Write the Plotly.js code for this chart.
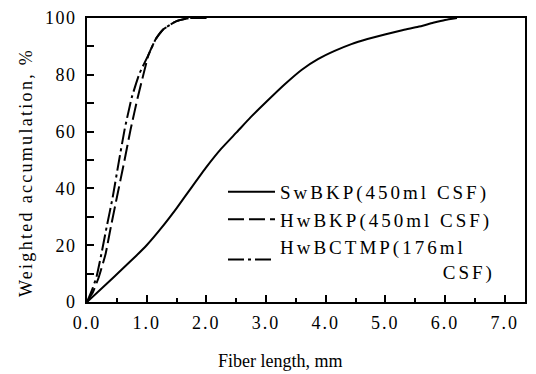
<!DOCTYPE html>
<html>
<head>
<meta charset="utf-8">
<script src="https://cdn.plot.ly/plotly-3.0.1.min.js"></script>
<style>
html,body{margin:0;padding:0;background:#fff;}
#chart{width:536px;height:374px;}
#chart .legendtext{letter-spacing:3px;}
#chart .legend .scrollbox{clip-path:none !important;}
#chart .xtick text{letter-spacing:2px;}
#chart .ytick text{letter-spacing:1.5px;}
#chart .annotation[data-index="1"] text{letter-spacing:2.3px;}
</style>
</head>
<body>
<div id="chart"></div>
<script>
// Fiber length (mm) and weighted accumulation (%)
const swX = [0, 0.33, 0.6, 0.83, 1.0, 1.25, 1.5, 1.75, 2.0, 2.25, 2.51, 2.74, 3.01, 3.31, 3.6, 3.87, 4.15, 4.43, 4.7, 4.99, 5.3, 5.55, 5.8, 6.0, 6.2];
const swY = [0, 6.4, 11.8, 16.4, 20, 26.2, 33, 40.3, 47.5, 54, 59.8, 65, 70.6, 76.6, 81.8, 85.5, 88.4, 90.8, 92.6, 94.2, 95.8, 96.9, 98.3, 99.3, 100];

const hwX = [0, 0.1, 0.2, 0.31, 0.4, 0.5, 0.62, 0.73, 0.85, 0.95, 1.03, 1.15, 1.28, 1.5, 1.72, 2.0];
const hwY = [0, 3.5, 8.9, 16.8, 26.5, 36.8, 49, 60.7, 72, 80.5, 87, 92.5, 96, 98.9, 100, 100];

const ctmpX = [0, 0.08, 0.16, 0.24, 0.33, 0.43, 0.53, 0.63, 0.75, 0.88, 1.03, 1.15, 1.28, 1.5, 1.72, 2.0];
const ctmpY = [0, 4, 8.9, 16.8, 26.5, 36.8, 49, 60.7, 72, 80.5, 87, 92.5, 96, 98.9, 100, 100];

const seriesNames = ["SwBKP(450ml CSF)", "HwBKP(450ml CSF)", "HwBCTMP(176ml<br>" + "\u00A0".repeat(21) + "CSF)"];
const xTickVals = [0, 1, 2, 3, 4, 5, 6, 7];
const xTickText = ["0.0", "1.0", "2.0", "3.0", "4.0", "5.0", "6.0", "7.0"];
const yTickVals = [0, 20, 40, 60, 80, 100];
const xTitle = "Fiber length, mm";
const yTitle = "Weighted accumulation, %";

const FONT = "'Liberation Serif', 'Times New Roman', serif";

const traces = [
  {x: swX, y: swY, name: seriesNames[0], mode: "lines", line: {color: "#000", width: 2, dash: "solid", shape: "spline", smoothing: 0.4}},
  {x: hwX, y: hwY, name: seriesNames[1], mode: "lines", line: {color: "#000", width: 2, dash: "16px,5px", shape: "spline", smoothing: 0.4}},
  {x: ctmpX, y: ctmpY, name: seriesNames[2], mode: "lines", line: {color: "#000", width: 2, dash: "16px,4px,3px,4px", shape: "spline", smoothing: 0.4}}
];

const layout = {
  width: 536, height: 374,
  margin: {l: 87, r: 11, t: 18, b: 72},
  paper_bgcolor: "#fff", plot_bgcolor: "#fff",
  font: {family: FONT, size: 18, color: "#000"},
  showlegend: true,
  legend: {x: 0.3105, y: 0.455, xanchor: "left", yanchor: "top", bgcolor: "rgba(0,0,0,0)", itemwidth: 47,
           font: {family: FONT, size: 19, color: "#000"}, tracegroupgap: 0},
  xaxis: {
    range: [0, 7.34], tickvals: xTickVals, ticktext: xTickText,
    ticks: "inside", ticklen: 7, tickwidth: 2, tickcolor: "#000",
    minor: {dtick: 0.5, ticks: "inside", ticklen: 4, tickwidth: 2, tickcolor: "#000", showgrid: false},
    showline: true, linewidth: 2, linecolor: "#000", mirror: true,
    showgrid: false, zeroline: false,
    tickfont: {family: FONT, size: 18, color: "#000"},
    ticklabelstandoff: 3
  },
  yaxis: {
    range: [0, 100], tickvals: yTickVals,
    ticks: "inside", ticklen: 7, tickwidth: 2, tickcolor: "#000",
    minor: {dtick: 10, ticks: "inside", ticklen: 7, tickwidth: 2, tickcolor: "#000", showgrid: false},
    showline: true, linewidth: 2, linecolor: "#000", mirror: true,
    showgrid: false, zeroline: false,
    tickfont: {family: FONT, size: 18, color: "#000"},
    ticklabelstandoff: 5
  },
  annotations: [
    {text: xTitle, xref: "paper", yref: "paper", x: (280 - 87) / 438, y: -59 / 284, xanchor: "center", yanchor: "middle", showarrow: false, font: {family: FONT, size: 18, color: "#000"}},
    {text: yTitle, textangle: -90, xref: "paper", yref: "paper", x: (25 - 87) / 438, y: (302 - 172.5) / 284, xanchor: "center", yanchor: "middle", showarrow: false, font: {family: FONT, size: 18, color: "#000"}}
  ]
};

Plotly.newPlot("chart", traces, layout, {displayModeBar: false, staticPlot: true});
</script>
</body>
</html>
